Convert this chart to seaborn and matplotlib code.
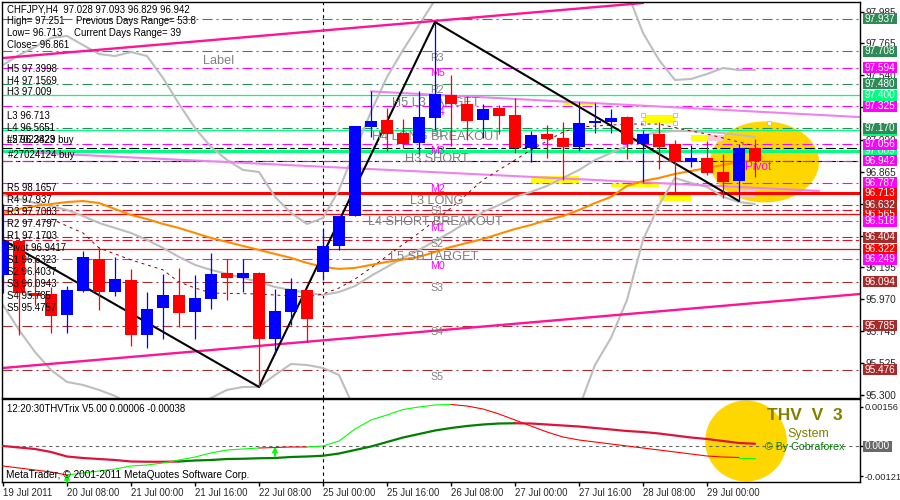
import numpy as np
import matplotlib
matplotlib.use('Agg')
import matplotlib.pyplot as plt
from matplotlib.patches import Ellipse, Rectangle
from matplotlib.transforms import blended_transform_factory
import seaborn as sns

# CHFJPY H4 candles
opens = [96.141, 96.379, 96.014, 96.007, 95.860, 96.028, 96.253, 96.021, 96.105, 95.720, 95.909, 96.000,
         95.881, 95.972, 96.155, 96.120, 96.155, 95.692, 95.881, 96.035, 96.162, 96.344, 96.554, 97.178,
         97.227, 97.136, 97.066, 97.241, 97.403, 97.340, 97.227, 97.312, 97.263, 97.031, 97.129, 97.101,
         97.038, 97.206, 97.213, 97.248, 97.059, 97.129, 97.059, 96.933, 96.961, 96.863, 96.800, 97.028]
highs = [96.638, 96.400, 96.260, 96.056, 96.063, 96.309, 96.337, 96.267, 96.183, 96.021, 96.148, 96.190,
         96.141, 96.295, 96.253, 96.253, 96.162, 96.042, 96.120, 96.035, 96.463, 96.554, 97.185, 97.431,
         97.312, 97.234, 97.431, 97.915, 97.543, 97.396, 97.340, 97.333, 97.382, 97.150, 97.192, 97.213,
         97.354, 97.347, 97.305, 97.256, 97.157, 97.213, 97.087, 97.052, 97.080, 96.989, 97.059, 97.093]
lows = [96.014, 95.720, 95.930, 95.734, 95.734, 96.020, 95.895, 95.993, 95.643, 95.629, 95.692, 95.776,
        95.692, 95.902, 95.965, 96.021, 95.355, 95.587, 95.790, 95.671, 96.105, 96.316, 96.554, 97.108,
        97.010, 97.031, 96.989, 97.157, 97.045, 97.087, 97.101, 97.129, 96.996, 96.933, 96.961, 96.807,
        97.010, 97.136, 97.136, 96.954, 96.793, 96.884, 96.723, 96.898, 96.842, 96.681, 96.659, 96.829]
closes = [96.379, 96.014, 95.993, 95.853, 96.035, 96.267, 96.021, 96.112, 95.720, 95.902, 96.000, 95.874,
          95.979, 96.148, 96.120, 96.155, 95.692, 95.888, 96.042, 95.832, 96.344, 96.554, 97.185, 97.220,
          97.129, 97.059, 97.248, 97.410, 97.340, 97.220, 97.305, 97.256, 97.031, 97.122, 97.094, 97.038,
          97.206, 97.220, 97.241, 97.059, 97.129, 97.038, 96.933, 96.961, 96.856, 96.793, 97.031, 96.942]

band_upper = [97.613, 97.683, 97.739, 97.803, 97.817, 97.753, 97.690, 97.676, 97.704, 97.676, 97.522, 97.340,
              97.171, 97.038, 96.947, 96.877, 96.863, 96.688, 96.575, 96.498, 96.540, 96.737, 97.017, 97.284,
              97.529, 97.718, 97.894, 98.069, 98.30, 98.50, 98.60, 98.65, 98.70, 98.70, 98.65, 98.60,
              98.50, 98.40, 98.25, 98.13, 97.838, 97.648, 97.508, 97.515, 97.550, 97.592, 97.578, 97.578]
band_middle = [96.702, 96.674, 96.645, 96.624, 96.596, 96.554, 96.505, 96.470, 96.435, 96.386, 96.330, 96.267,
               96.211, 96.176, 96.148, 96.120, 96.091, 96.056, 96.035, 96.014, 96.000, 96.021, 96.063, 96.134,
               96.197, 96.260, 96.316, 96.379, 96.442, 96.512, 96.582, 96.631, 96.688, 96.723, 96.765, 96.821,
               96.877, 96.947, 96.996, 97.045, 97.122, 97.143, 97.150, 97.150, 97.143, 97.136, 97.122, 97.108]
band_lower = [95.930, 95.755, 95.600, 95.474, 95.390, 95.369, 95.334, 95.292, 95.229, 95.180, 95.138, 95.124,
              95.194, 95.278, 95.334, 95.355, 95.355, 95.439, 95.516, 95.509, 95.488, 95.439, 95.194, 94.95,
              94.80, 94.70, 94.60, 94.55, 94.50, 94.50, 94.55, 94.60, 94.70, 94.80, 94.90, 95.00,
              95.208, 95.509, 95.699, 95.965, 96.386, 96.631, 96.821, 96.786, 96.758, 96.688, 96.652, 96.638]
moving_avg = [96.575, 96.603, 96.624, 96.638, 96.652, 96.659, 96.645, 96.603, 96.561, 96.533, 96.498, 96.470,
              96.435, 96.400, 96.372, 96.344, 96.316, 96.288, 96.260, 96.225, 96.197, 96.183, 96.190, 96.211,
              96.232, 96.249, 96.267, 96.302, 96.337, 96.365, 96.393, 96.428, 96.463, 96.491, 96.526, 96.554,
              96.596, 96.645, 96.688, 96.765, 96.800, 96.821, 96.849, 96.870, 96.891, 96.912, 96.933, 96.947]

zigzag_bars = [0, 16, 27, 46]
zigzag_prices = [96.386, 95.355, 97.915, 96.659]
dotted_bars = [3, 5, 6, 8, 10, 11, 12, 13, 16, 19, 20, 21, 22, 23, 24, 26, 28, 30, 33, 35, 36, 39, 41, 43, 44, 46, 47]
dotted_prices = [96.533, 96.435, 96.330, 96.246, 96.176, 96.091, 96.049, 96.014, 96.007, 95.986, 96.007, 96.049,
                 96.112, 96.190, 96.274, 96.435, 96.610, 96.807, 97.017, 97.143, 97.178, 97.199, 97.199, 97.150,
                 97.129, 97.073, 97.045]

# trend lines, (bar, price) at both ends
pink_top_bars, pink_top_prices = [0, 40], [97.662, 98.048]
pink_low_bars, pink_low_prices = [0, 53.56], [95.488, 96.007]
lilac_top_bars, lilac_top_prices = [23, 53.56], [97.428, 97.248]
lilac_low_bars, lilac_low_prices = [2, 51], [96.998, 96.730]

# horizontal levels
spring_levels = [97.400, 97.157, 97.009]
red_levels = [96.713, 96.565, 96.322]
seagreen_levels = [97.937, 97.708, 97.480, 97.170]
brown_levels = [96.632, 96.404, 96.094, 95.785, 95.476]
magenta_levels = [97.594, 97.325, 97.056, 96.942, 96.787, 96.518, 96.249]
red_dash_levels = [96.596, 96.386]
order_levels = [97.033, 96.942]

# indicator pane
trix_thin = [-0.00080, -0.00088, -0.00096, -0.00104, -0.00116, -0.00108, -0.00100, -0.00092, -0.00080, -0.00076,
             -0.00068, -0.00056, -0.00044, -0.00028, -0.00016, -0.00012, -0.00008, -0.00006, -0.00004, -0.00004,
             0.0, 0.00020, 0.00068, 0.00104, 0.00124, 0.00146, 0.00156, 0.00164, 0.00166, 0.00160,
             0.00148, 0.00128, 0.00104, 0.00080, 0.00056, 0.00036, 0.00024, 0.00016, 0.00008, 0.0,
             -0.00008, -0.00016, -0.00024, -0.00032, -0.00040, -0.00044, -0.00046, -0.00046]
trix_thick = [0.0, -0.00006, -0.00012, -0.00024, -0.00042, -0.00048, -0.00052, -0.00056, -0.00062, -0.00063,
              -0.00063, -0.00062, -0.00058, -0.00056, -0.00052, -0.00051, -0.00049, -0.00048, -0.00044, -0.00042,
              -0.00039, -0.00030, -0.00016, -0.00002, 0.00016, 0.00034, 0.00048, 0.00062, 0.00072, 0.00080,
              0.00086, 0.00090, 0.00091, 0.00090, 0.00086, 0.00082, 0.00078, 0.00072, 0.00066, 0.00060,
              0.00056, 0.00050, 0.00042, 0.00034, 0.00028, 0.00020, 0.00012, 0.00009]

price_ticks = [97.985, 97.765, 97.540, 97.320, 97.090, 96.865, 96.640, 96.415, 96.195, 95.970, 95.745, 95.525, 95.300]
date_labels = ['19 Jul 2011', '20 Jul 08:00', '21 Jul 00:00', '21 Jul 16:00', '22 Jul 08:00', '25 Jul 00:00',
               '25 Jul 16:00', '26 Jul 08:00', '27 Jul 00:00', '27 Jul 16:00', '28 Jul 08:00', '29 Jul 00:00']

left_notes = ['CHFJPY,H4  97.028 97.093 96.829 96.942', 'High= 97.251', 'Low= 96.713', 'Close= 96.861',
              'H5 97.3998', 'H4 97.1569', 'H3 97.009', 'L3 96.713', 'L4 96.5651']
pivot_notes = ['R5 98.1657', 'R4 97.937', 'R3 97.7083', 'R2 97.4797', 'R1 97.1703', 'Pivot 96.9417',
               'S1 96.6323', 'S2 96.4037', 'S3 96.0943', 'S4 95.785', 'S5 95.4757']

sns.set_style('white')
plt.rcParams['font.family'] = ['Liberation Sans', 'DejaVu Sans']
SMALL = 6.9
BOX_SIZE = 7.2
DASHDOT = (0, (9, 3.6, 1.8, 3.6))

fig = plt.figure(figsize=(9, 5), dpi=100)
ax = fig.add_axes([2 / 900, 1 - 397.5 / 500, 858 / 900, 395.5 / 500])
ind = fig.add_axes([2 / 900, 1 - 482 / 500, 858 / 900, 83 / 500])
bars = np.arange(len(opens))


def draw_line(axis, x, y, color, width, style='-', zorder=3):
    sns.lineplot(x=x, y=y, ax=axis, color=color, linewidth=width, linestyle=style, zorder=zorder,
                 estimator=None, sort=False)


def note(x, y, text, color='black', size=SMALL, **kw):
    # x, y are picture pixels, same as the terminal draws its labels
    fig.text(x / 900, 1 - y / 500, text, color=color, fontsize=size, va='center', zorder=6, **kw)


def under_note(x, y, text, color, size):
    # these sit behind the candles
    ax.text(x / 900, 1 - y / 500, text, color=color, fontsize=size, va='center', zorder=3,
            transform=fig.transFigure, clip_on=False)


# gold blob under everything
ax.add_patch(Ellipse((47.6, 96.933), 6.8, 0.568, color='#FFD700', lw=0, zorder=0.5))

# yellow boxes
for b0, b1, p0, p1 in [(33, 36, 96.779, 96.835), (35, 37, 97.333, 97.354), (40, 42, 97.206, 97.263),
                       (38, 41, 96.758, 96.786), (41, 43, 96.66, 96.715), (43, 45, 97.08, 97.122)]:
    ax.add_patch(Rectangle((b0, p0), b1 - b0, p1 - p0, color='yellow', lw=0, zorder=1))
ax.add_patch(Rectangle((44, 97.08), 1, 0.042, color='#FFC8DC', lw=0, zorder=1.1))
ax.add_patch(Rectangle((45.9, 96.686), 1.1, 0.05, color='#FFC8DC', lw=0, zorder=1.1))
ax.plot([40, 42, 42, 40], [97.263, 97.263, 97.206, 97.206], ls='', marker='s', ms=3.2, mfc='white', mec='#E8D000',
        mew=0.7, zorder=2)
ax.plot([47.9], [97.206], ls='', marker='s', ms=3.2, mfc='white', mec='#E8D000', mew=0.7, zorder=2)

# horizontal levels
for lv in order_levels:
    ax.axhline(lv, color='black', lw=0.8, ls=(0, (9, 3, 4, 3)), zorder=1.5)
for lv in seagreen_levels:
    ax.axhline(lv, color='#2E8B57', lw=0.8, ls=DASHDOT, zorder=1.6)
for lv in brown_levels:
    ax.axhline(lv, color='#A52A2A', lw=0.8, ls=DASHDOT, zorder=1.6)
for lv in magenta_levels:
    ax.axhline(lv, color='#FF00FF', lw=0.8, ls=DASHDOT, zorder=1.6)
for lv in red_dash_levels:
    ax.axhline(lv, color='#E0102A', lw=0.8, ls=(0, (9, 3, 3, 3)), zorder=1.6)
ax.axhline(spring_levels[0], color='#00FF7F', lw=0.9, zorder=1.7)
ax.axhline(spring_levels[1], color='#00FF7F', lw=0.9, zorder=1.7)
ax.axhline(spring_levels[2], color='#00FF7F', lw=2.2, zorder=1.7)
ax.axhline(red_levels[0], color='red', lw=2.2, zorder=1.7)
ax.axhline(red_levels[1], color='red', lw=0.9, zorder=1.7)
ax.axhline(red_levels[2], color='red', lw=0.9, zorder=1.7)
ax.axvline(20, color='black', lw=0.8, ls=(0, (3, 3)), zorder=1.8)

# indicator lines on the price chart
draw_line(ax, bars, band_upper, '#BEBEBE', 1.5, zorder=2.2)
draw_line(ax, bars, band_middle, '#BEBEBE', 1.5, zorder=2.2)
draw_line(ax, bars, band_lower, '#BEBEBE', 1.5, zorder=2.2)
draw_line(ax, bars, moving_avg, '#FF8C00', 1.5, zorder=2.4)
draw_line(ax, lilac_top_bars, lilac_top_prices, '#EE82EE', 1.5, zorder=2.3)
draw_line(ax, lilac_low_bars, lilac_low_prices, '#EE82EE', 1.5, zorder=2.3)
draw_line(ax, pink_top_bars, pink_top_prices, '#FF1493', 1.7, zorder=2.5)
draw_line(ax, pink_low_bars, pink_low_prices, '#FF1493', 1.7, zorder=2.5)
draw_line(ax, dotted_bars, dotted_prices, '#8B0000', 0.7, style=(0, (3, 4)), zorder=2.6)
draw_line(ax, zigzag_bars, zigzag_prices, 'black', 1.5, zorder=2.7)

# candles
for i in bars:
    col = 'blue' if closes[i] >= opens[i] else 'red'
    ax.vlines(i, lows[i], highs[i], color=col, lw=0.9, zorder=4)
    ax.bar(i, abs(closes[i] - opens[i]), bottom=min(opens[i], closes[i]), width=0.69, color=col, lw=0, zorder=4)

ax.set_xlim(-0.0625, 53.5625)
ax.set_ylim(95.281, 98.055)
ax.set_xticks([])
ax.yaxis.tick_right()
ax.set_yticks(price_ticks)
ax.set_yticklabels(['%.3f' % t for t in price_ticks], fontsize=BOX_SIZE)
ax.tick_params(axis='y', length=3, width=1, pad=1, right=True, color='black')
for s in ax.spines.values():
    s.set_color('black')
    s.set_linewidth(1)
    s.set_visible(True)

# price boxes on the right, later groups lie over earlier ones
box_tr = blended_transform_factory(ax.transAxes, ax.transData)
layer = 5
for levels, col in [(spring_levels, '#00FF7F'), (red_levels, 'red'), (seagreen_levels, '#2E8B57'),
                    (brown_levels, '#A52A2A'), (magenta_levels, '#FF00FF')]:
    for lv in levels:
        ax.add_patch(Rectangle((1.0035, lv - 0.0385), 0.0395, 0.077, transform=box_tr, color=col, lw=0,
                               clip_on=False, zorder=layer))
        ax.text(1.0232, lv, '%.3f' % lv, transform=box_tr, color='white', fontsize=BOX_SIZE, ha='center', va='center',
                clip_on=False, zorder=layer + 0.1)
        layer += 0.2

# indicator pane
ind.add_patch(Ellipse((46.44, 0.0002), 5.1, 0.00324, color='#FFD700', lw=0, zorder=0.5))
ind.axhline(0, color='#696969', lw=0.8, ls=(0, (3, 3)), zorder=1)
ind.axvline(20, color='black', lw=0.8, ls=(0, (3, 3)), zorder=1)
for start, stop, col in [(0, 11, '#DC143C'), (11, 32, '#008000'), (32, 47, '#DC143C')]:
    draw_line(ind, bars[start:stop + 1], trix_thick[start:stop + 1], col, 1.6)
for start, stop, col in [(0, 4, 'red'), (4, 16, '#00FF00'), (16, 19, 'red'), (19, 28, '#00FF00'), (28, 46, 'red'),
                         (46, 47, '#00FF00')]:
    draw_line(ind, bars[start:stop + 1], trix_thin[start:stop + 1], col, 0.8)
for b, v0, v1 in [(4, -0.00144, -0.00112), (17, -0.00040, -0.00002)]:
    ind.annotate('', xy=(b, v1), xytext=(b, v0), arrowprops=dict(arrowstyle='->', color='#00FF00', lw=1.4,
                                                                 shrinkA=0, shrinkB=0, mutation_scale=7))

ind.set_xlim(-0.0625, 53.5625)
ind.set_ylim(-0.00144, 0.00188)
ind.set_xticks(np.arange(0, 48, 4))
ind.set_xticklabels(date_labels, fontsize=SMALL, ha='left')
ind.yaxis.tick_right()
ind.set_yticks([0.00156, 0.0, -0.00121])
ind.set_yticklabels(['0.00156', '', '-0.00121'], fontsize=6.7)
ind.tick_params(axis='both', length=3, width=1, pad=1, bottom=True, right=True, color='black')
ind.tick_params(axis='y', length=2.5, pad=0.5)
for s in ind.spines.values():
    s.set_color('black')
    s.set_linewidth(1)
    s.set_visible(True)
ind_tr = blended_transform_factory(ind.transAxes, ind.transData)
ind.add_patch(Rectangle((1.0035, -0.00022), 0.0338, 0.00044, transform=ind_tr, color='#696969', lw=0, clip_on=False,
                        zorder=5))
ind.text(1.0204, 0, '0.000', transform=ind_tr, color='white', fontsize=BOX_SIZE, ha='center', va='center',
         clip_on=False, zorder=6)

# text on the chart
for txt, y in zip(left_notes, [10, 21, 33, 45, 69, 81, 92, 116, 128]):
    note(7, y, txt)
note(76, 21, 'Previous Days Range= 53.8')
note(74, 33, 'Current Days Range= 39')
note(7, 140, 'L5 96.2823')
note(7, 140, '#27023429 buy')
note(8, 155, '#27024124 buy')
for n, txt in enumerate(pivot_notes):
    note(7, 188 + 12 * n, txt)

GREY = '#808080'
for x, y, txt in [(203, 61, 'Label'), (392, 103, 'H5 L3 TARGET'), (372, 137, 'H4 LONG BREAKOUT'), (405, 159, 'H3 SHORT'),
                  (410, 201, 'L3 LONG'), (368, 222, 'L4 SHORT BREAKOUT'), (390, 257, 'L5 SB TARGET')]:
    under_note(x, y, txt, GREY, 9.2)
for y, txt in [(58, 'R3'), (90, 'R2'), (134, 'R1'), (211, 'S1'), (244, 'S2'), (288, 'S3'), (332, 'S4'), (377, 'S5')]:
    under_note(430, y, txt, GREY, 7.7)
for y, txt in [(73, 'M5'), (112, 'M4'), (151, 'M3'), (189, 'M2'), (228, 'M1'), (266, 'M0')]:
    under_note(430, y, txt, '#FF00FF', 7.7)
note(745, 167, 'Pivot', color='#FF00FF', size=8.5)

note(7, 409, '12:20:30THVTrix V5.00 0.00006 -0.00038')
note(6, 475, 'MetaTrader, \u00a9 2001-2011 MetaQuotes Software Corp.', size=7.3)
note(767, 415, 'THV  V  3', color='#808000', size=12.5, fontweight='bold')
note(787, 434, 'System', color='#808000', size=9)
note(765, 447, '\u00a9 By Cobraforex', color='#008000', size=7.7)

fig.savefig('out.png', dpi=100)
